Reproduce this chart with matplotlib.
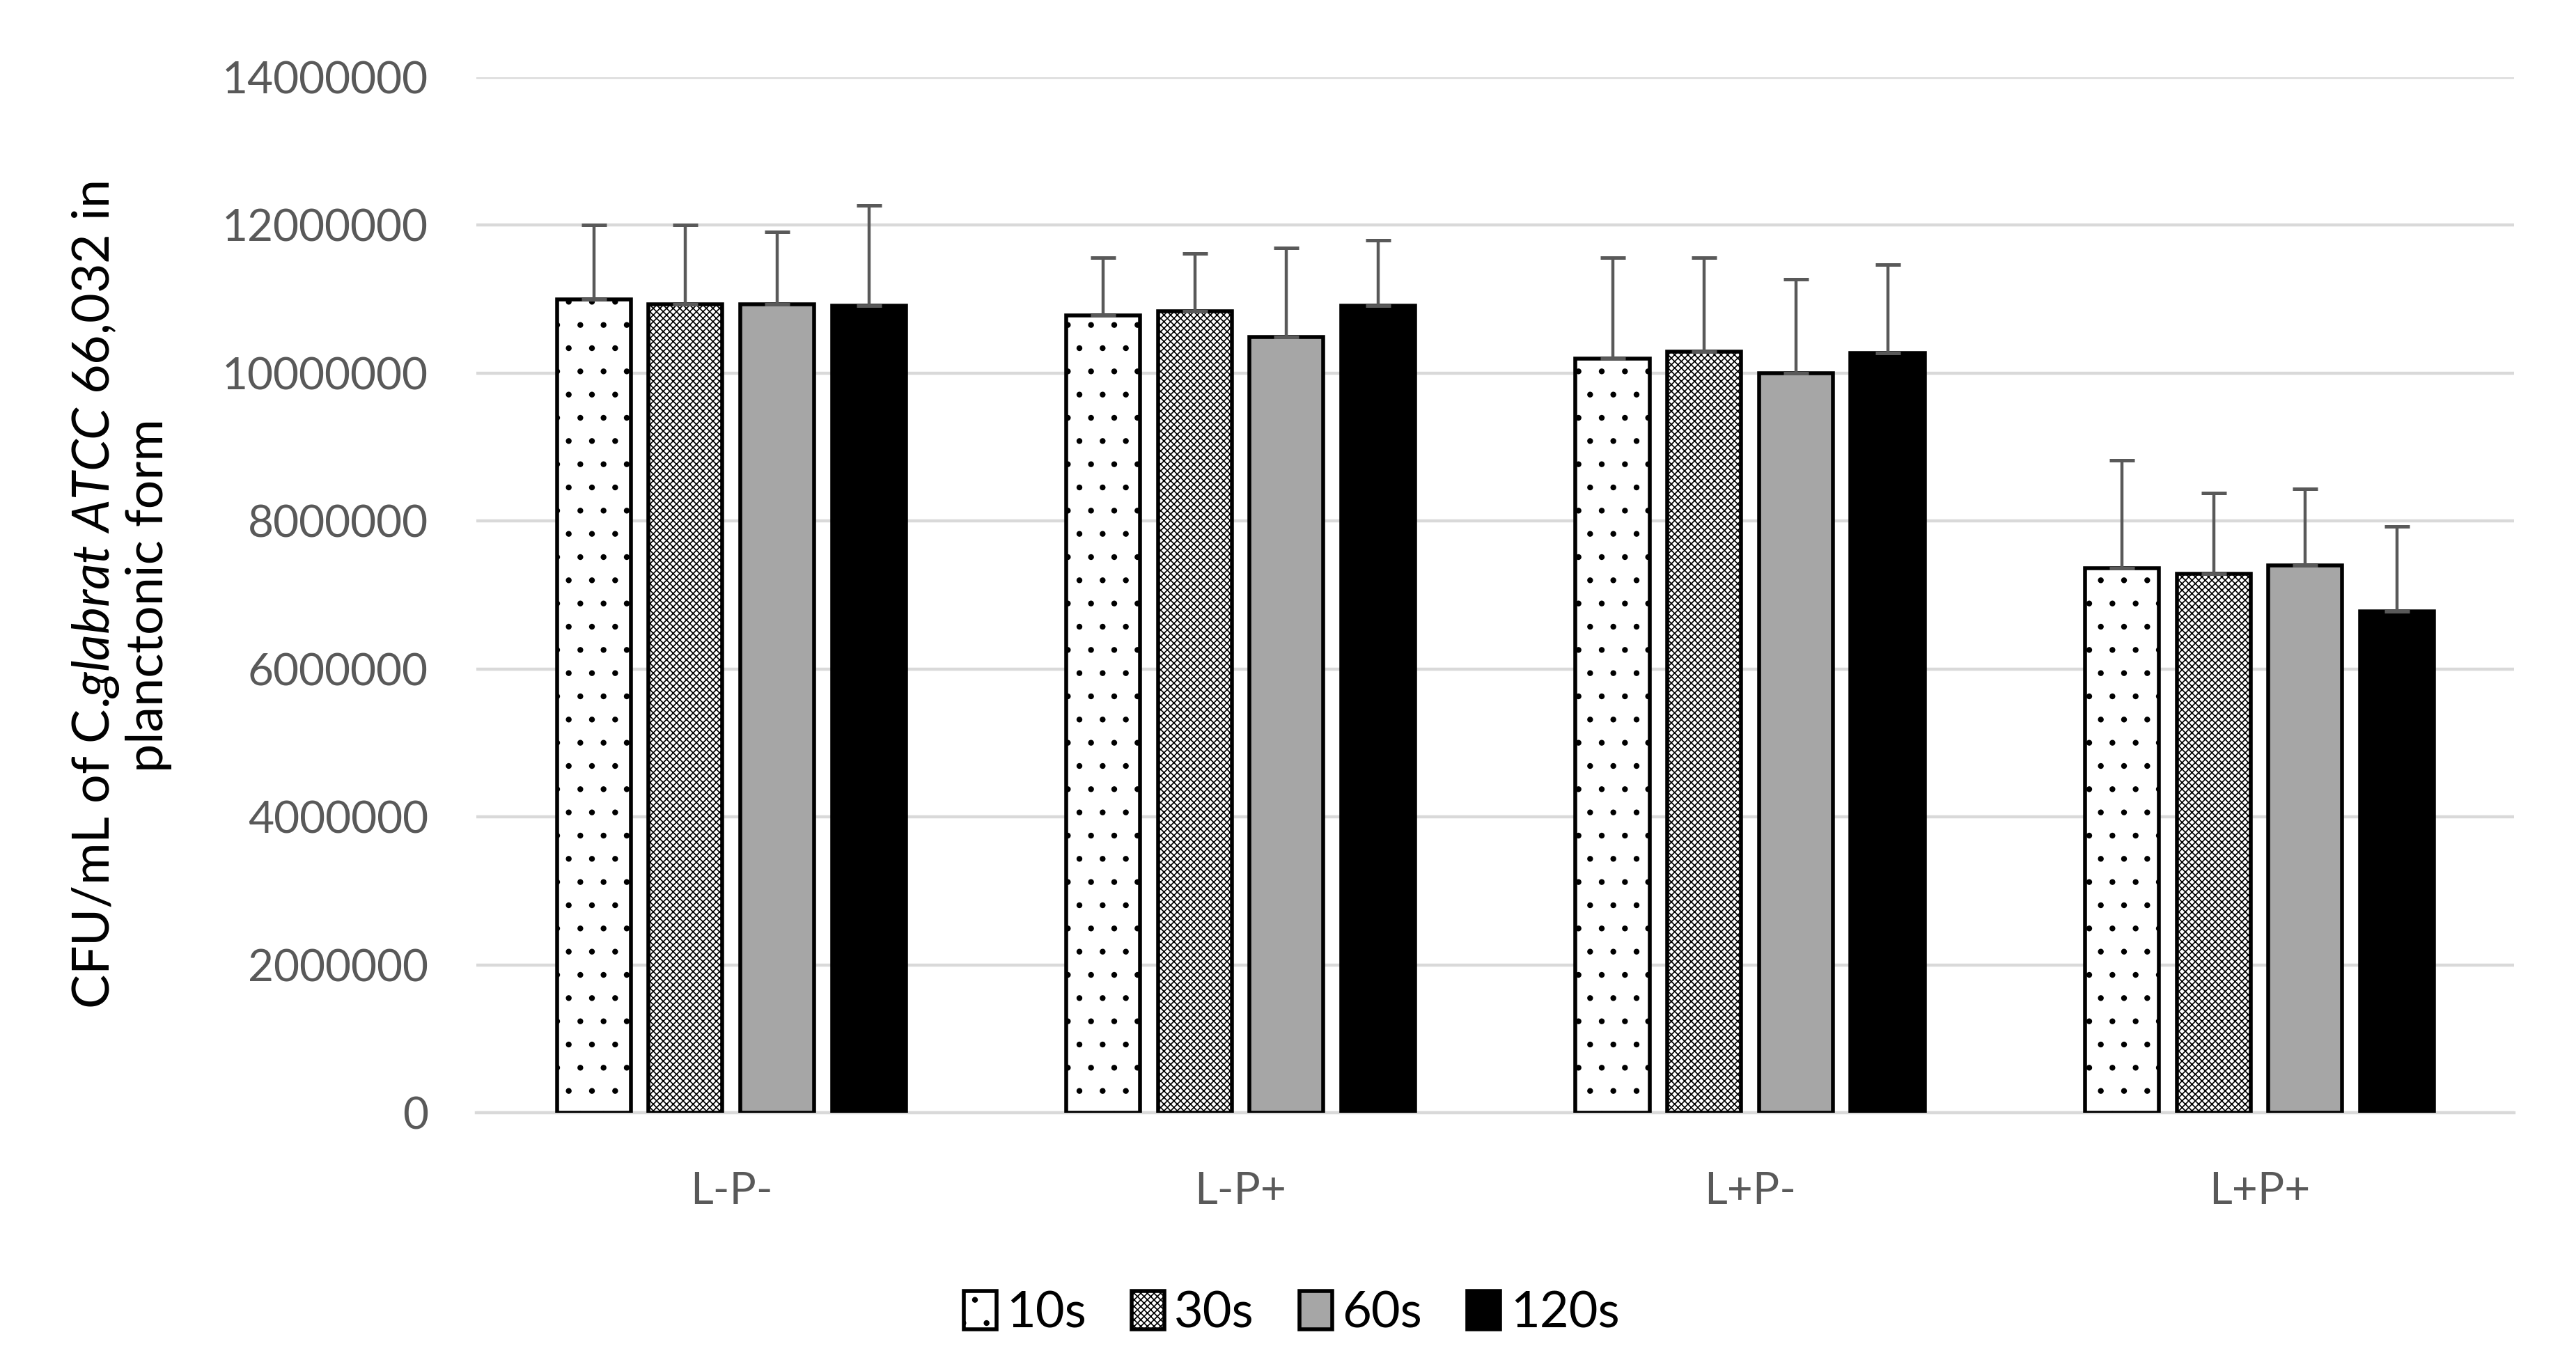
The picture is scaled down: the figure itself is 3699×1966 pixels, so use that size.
import matplotlib
matplotlib.use("Agg")
import matplotlib.pyplot as plt
import numpy as np

categories = ["L-P-", "L-P+", "L+P-", "L+P+"]
series = ["10s", "30s", "60s", "120s"]
values = {
    "10s":  [11000000, 10780000, 10200000, 7360000],
    "30s":  [10930000, 10840000, 10290000, 7290000],
    "60s":  [10930000, 10490000, 10000000, 7400000],
    "120s": [10910000, 10910000, 10270000, 6780000],
}
errors = {
    "10s":  [1000000, 780000, 1360000, 1460000],
    "30s":  [1070000, 780000, 1270000, 1090000],
    "60s":  [980000, 1200000, 1270000, 1040000],
    "120s": [1360000, 890000, 1200000, 1150000],
}
yticks = [0, 2000000, 4000000, 6000000, 8000000, 10000000, 12000000, 14000000]

plt.rcParams['font.family'] = ['Lato', 'DejaVu Sans']
plt.rcParams['mathtext.fontset'] = 'custom'
plt.rcParams['mathtext.rm'] = 'Lato'
plt.rcParams['mathtext.it'] = 'Lato:italic'
plt.rcParams['hatch.linewidth'] = 0.6

styles = {
    "10s":  dict(facecolor="white", hatch="."),
    "30s":  dict(facecolor="white", hatch="xxxxxxx"),
    "60s":  dict(facecolor="#a6a6a6", hatch=None),
    "120s": dict(facecolor="black", hatch=None),
}

fig = plt.figure(figsize=(3699/200, 1966/200), dpi=200)
ax = fig.add_axes([0.185, 0.187, 0.791, 0.7566])

x = np.arange(len(categories))
step = 0.18
width = 0.145
for i, s in enumerate(series):
    pos = x + (i - 1.5) * step
    st = styles[s]
    ax.bar(pos, values[s], width=width, facecolor=st["facecolor"], hatch=st["hatch"],
           edgecolor="black", linewidth=2.0, label=s, zorder=3)
    ax.errorbar(pos, values[s], yerr=[np.zeros(len(categories)), errors[s]], fmt="none",
                ecolor="#595959", elinewidth=1.6, capsize=6.5, capthick=1.8, zorder=4)

ax.set_xlim(-0.5, 3.5)
ax.set_ylim(0, 14000000)
ax.set_yticks(yticks)
ax.set_yticklabels([str(v) for v in yticks])
ax.set_xticks(x)
ax.set_xticklabels(categories)
ax.yaxis.grid(True, color="#d9d9d9", linewidth=1.6, zorder=0)
ax.set_axisbelow(True)
for sp in ["top", "right", "left"]:
    ax.spines[sp].set_visible(False)
ax.spines["bottom"].set_color("#d9d9d9")
ax.spines["bottom"].set_linewidth(1.6)
ax.tick_params(axis="both", length=0, labelsize=23, labelcolor="#595959")
ax.tick_params(axis="y", pad=25)
ax.tick_params(axis="x", pad=30)

ax.set_ylabel("CFU/mL of C.$\\mathit{glabrat\\ ATCC\\ 66{,}032}$ in\nplanctonic form",
              fontsize=26.5, color="black", labelpad=26, linespacing=1.1)

leg = ax.legend(loc="upper center", bbox_to_anchor=(0.40, -0.128), ncol=4, frameon=False,
                fontsize=26, handlelength=0.65, handleheight=0.8, handletextpad=0.2,
                columnspacing=0.9)

fig.savefig("out.png", dpi=200, facecolor="white")
